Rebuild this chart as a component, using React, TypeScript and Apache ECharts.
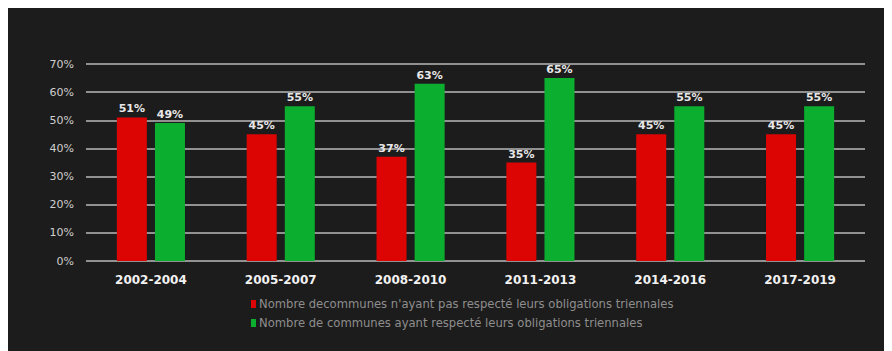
import React, { useEffect, useRef } from "react";
import * as echarts from "echarts";

const categories = ["2002-2004", "2005-2007", "2008-2010", "2011-2013", "2014-2016", "2017-2019"];
const notRespected = [51, 45, 37, 35, 45, 45];
const respected = [49, 55, 63, 65, 55, 55];
const seriesNames = [
  "Nombre decommunes n'ayant pas respecté leurs obligations triennales",
  "Nombre de communes ayant respecté leurs obligations triennales",
];

export default function App() {
  const ref = useRef<HTMLDivElement>(null);
  useEffect(() => {
    if (!ref.current) return;
    const chart = echarts.init(ref.current, null, { renderer: "svg" });
    const font = "DejaVu Sans";
    chart.setOption({
      animation: false,
      backgroundColor: "#1d1c1c",
      grid: { left: 78, right: 27, top: 56, bottom: 90 },
      xAxis: {
        type: "category",
        data: categories,
        axisLine: { show: false },
        axisTick: { show: false },
        axisLabel: { color: "#f2f2f2", fontWeight: "bold", fontSize: 12, fontFamily: font, margin: 13 },
      },
      yAxis: {
        type: "value",
        min: 0,
        max: 70,
        interval: 10,
        axisLabel: { color: "#cfcfcf", fontSize: 11, fontFamily: font, formatter: "{value}%", margin: 12 },
        splitLine: { lineStyle: { color: "#b8b8b8", width: 1.5 } },
      },
      legend: {
        orient: "vertical",
        left: 238,
        top: 285,
        itemWidth: 5,
        itemHeight: 8,
        itemGap: 7,
        icon: "rect",
        textStyle: { color: "#8e8e8e", fontSize: 11.6, fontFamily: font, padding: [0, 0, 0, -2] },
        data: seriesNames,
      },
      series: [
        {
          name: seriesNames[0],
          type: "bar",
          data: notRespected,
          barWidth: 30,
          barGap: "27%",
          itemStyle: { color: "#dd0404" },
          label: { show: true, position: "top", formatter: "{c}%", color: "#e8e8e8", fontWeight: "bold", fontSize: 11, fontFamily: font, distance: 3 },
        },
        {
          name: seriesNames[1],
          type: "bar",
          data: respected,
          barWidth: 30,
          itemStyle: { color: "#0bae2f" },
          label: { show: true, position: "top", formatter: "{c}%", color: "#e8e8e8", fontWeight: "bold", fontSize: 11, fontFamily: font, distance: 3 },
        },
      ],
    });
    return () => chart.dispose();
  }, []);
  return <div ref={ref} style={{ width: 884, height: 343 }} />;
}
